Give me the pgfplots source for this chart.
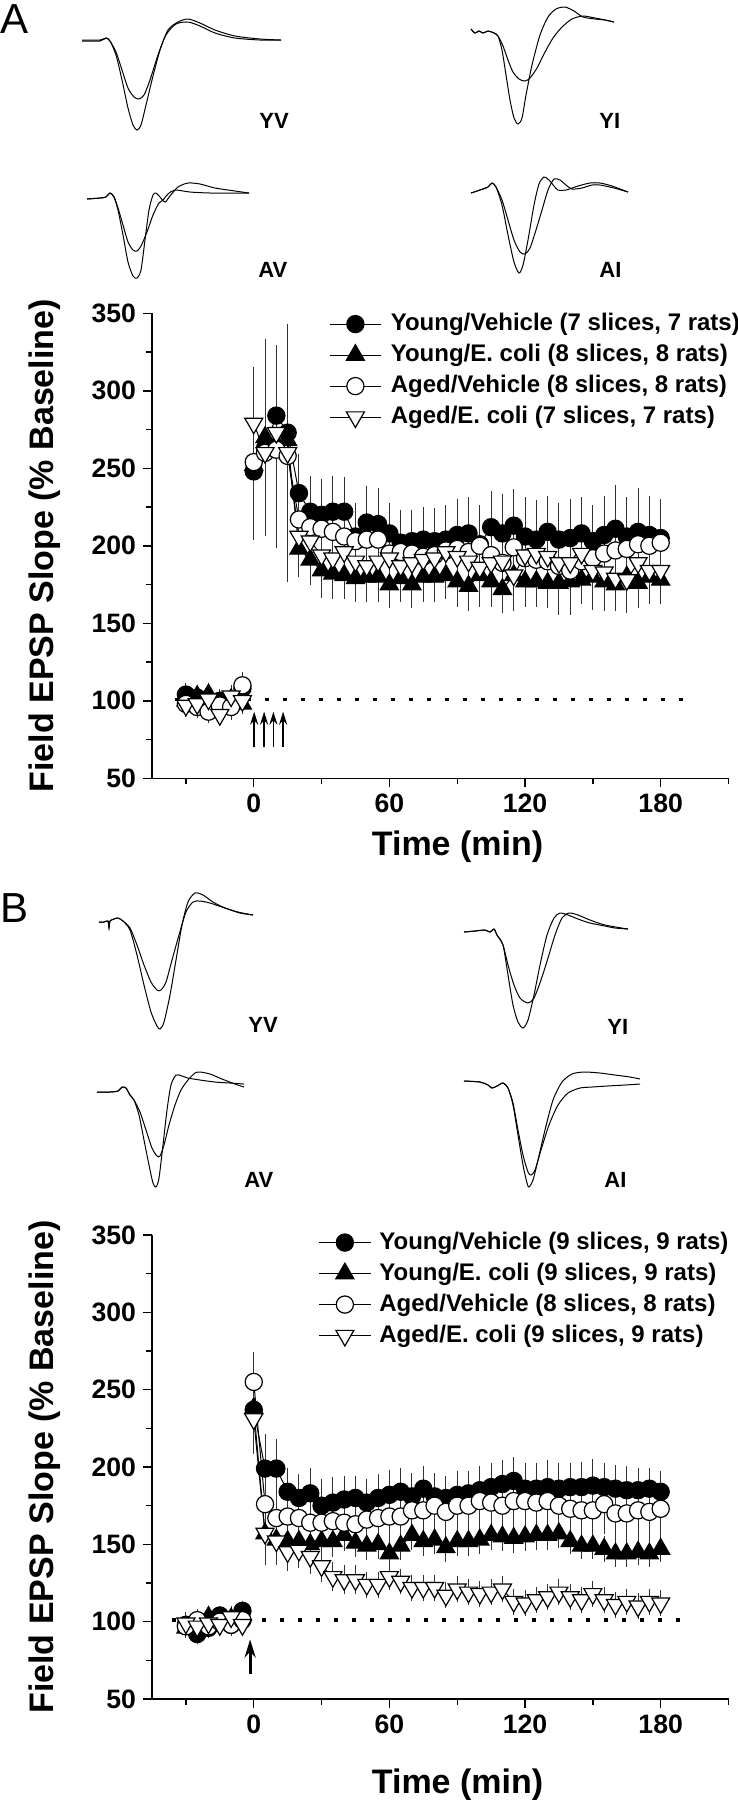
\documentclass[border=0pt]{standalone}
\usepackage{pgfplots}
\usepackage{pgfplotstable}
\pgfplotsset{compat=1.18}
\usetikzlibrary{arrows.meta}
\usepackage{fontspec}
\setmainfont{Liberation Sans}
\newcommand\tickfont{\bfseries\fontsize{13.3}{15}\selectfont}
\newcommand\labfont{\bfseries\fontsize{17}{20}\selectfont}
\newcommand\legfont{\bfseries\fontsize{12}{14}\selectfont}
\newcommand\trfont{\bfseries\fontsize{11}{13}\selectfont}
\newcommand\panfont{\fontsize{21}{25}\selectfont}

% ---------- Panel A data ----------
\pgfplotstableread{
t y e
-30 104 4
-25 102 4
-20 95 4
-15 100 4
-10 100 4
-5 108 5
-2.5 nan 0
0 248 36
5 263 38
10 284 42
15 273 40
20 234 22
25 222 20
30 220 20
35 222 20
40 222 19
45 206 18
50 215 20
55 214 20
60 208 16
65 202 18
70 203 17
75 204 18
80 203 18
85 204 19
90 207 20
95 208 20
100 201 22
105 212 20
110 208 22
115 213 20
120 206 22
125 204 22
130 209 20
135 204 20
140 205 22
145 208 20
150 203 20
155 207 22
160 211 25
165 206 22
170 209 25
175 207 22
180 205 22
}\AYV
\pgfplotstableread{
t y e
-30 100 4
-25 103 4
-20 104 4
-15 99 4
-10 101 4
-5 98 3
-2.5 nan 0
0 252 45
5 270 60
10 266 55
15 268 45
20 198 15
25 191 13
30 184 14
35 182 13
40 181 12
45 179 12
50 180 13
55 180 13
60 175 12
65 179 12
70 175 12
75 180 13
80 180 13
85 181 12
90 177 13
95 174 13
100 181 12
105 177 13
110 172 12
115 181 14
120 177 13
125 177 13
130 176 13
135 176 12
140 177 13
145 178 12
150 180 12
155 177 13
160 175 12
165 180 12
170 176 13
175 180 12
180 178 12
}\AYE
\pgfplotstableread{
t y e
-30 98 4
-25 96 4
-20 93 4
-15 97 4
-10 96 5
-5 110 5
-2.5 nan 0
0 254 42
5 260 45
10 262 60
15 258 55
20 217 18
25 212 18
30 211 18
35 209 20
40 206 20
45 203 20
50 204 18
55 204 20
60 195 18
65 196 20
70 195 18
75 193 17
80 194 18
85 197 18
90 198 18
95 196 18
100 200 20
105 194 18
110 189 18
115 199 20
120 192 18
125 191 18
130 190 18
135 187 18
140 184 18
145 190 18
150 192 18
155 195 18
160 197 20
165 198 20
170 201 20
175 200 20
180 202 18
}\AAV
\pgfplotstableread{
t y e
-30 97 4
-25 98 4
-20 101 4
-15 91 4
-10 103 4
-5 100 4
-2.5 nan 0
0 279 33
5 260 40
10 273 52
15 260 80
20 206 20
25 203 18
30 194 20
35 192 18
40 196 20
45 190 18
50 187 18
55 190 18
60 192 17
65 187 18
70 189 18
75 191 20
80 192 20
85 196 20
90 193 22
95 190 22
100 186 22
105 189 22
110 190 22
115 181 20
120 194 25
125 195 25
130 193 25
135 189 30
140 189 30
145 195 25
150 184 22
155 183 22
160 179 18
165 178 18
170 189 20
175 184 18
180 184 18
}\AAE

% ---------- Panel B data ----------
\pgfplotstableread{
t y e
-30 98 4
-25 92 3
-20 96 3
-15 104 3
-10 98 3
-5 107 3
-2.5 nan 0
0 237 17
5 199 19
10 199 16
15 184 12
20 180 12
25 183 13
30 175 14
35 177 13
40 179 12
45 180 11
50 177 12
55 180 12
60 182 13
65 184 12
70 181 12
75 186 11
80 181 12
85 180 11
90 182 12
95 183 11
100 185 12
105 187 12
110 189 12
115 191 12
120 186 13
125 186 13
130 187 14
135 186 13
140 187 12
145 187 13
150 188 14
155 187 12
160 186 12
165 185 12
170 185 11
175 186 10
180 184 10
}\BYV
\pgfplotstableread{
t y e
-30 96 3
-25 99 3
-20 103 3
-15 101 3
-10 102 3
-5 104 3
-2.5 nan 0
0 238 12
5 157 12
10 153 10
15 152 9
20 152 8
25 150 7
30 152 7
35 152 7
40 156 7
45 151 6
50 149 6
55 150 6
60 144 6
65 149 6
70 156 6
75 152 6
80 153 6
85 148 6
90 152 6
95 152 6
100 153 6
105 156 6
110 155 6
115 154 6
120 155 6
125 156 6
130 156 6
135 157 6
140 152 5
145 149 5
150 149 5
155 147 5
160 144 5
165 144 5
170 145 5
175 144 5
180 147 5
}\BYE
\pgfplotstableread{
t y e
-30 97 4
-25 101 4
-20 97 4
-15 100 4
-10 98 4
-5 101 4
-2.5 nan 0
0 255 16
5 176 15
10 167 12
15 168 12
20 167 12
25 164 12
30 164 12
35 165 12
40 164 12
45 163 12
50 166 12
55 167 12
60 168 13
65 168 13
70 172 14
75 172 14
80 175 14
85 171 14
90 175 14
95 175 14
100 178 15
105 177 15
110 175 15
115 178 15
120 178 15
125 177 15
130 178 16
135 175 16
140 173 16
145 172 16
150 172 16
155 176 16
160 170 17
165 170 17
170 172 17
175 171 17
180 173 17
}\BAV
\pgfplotstableread{
t y e
-30 99 4
-25 97 4
-20 99 4
-15 98 4
-10 103 4
-5 98 4
-2.5 nan 0
0 231 19
5 157 17
10 152 12
15 145 9
20 146 8
25 142 8
30 136 7
35 129 6
40 127 6
45 127 6
50 124 5
55 124 5
60 129 5
65 126 5
70 122 5
75 122 5
80 122 5
85 117 5
90 121 5
95 119 5
100 118 5
105 119 5
110 121 5
115 113 5
120 112 5
125 114 5
130 116 5
135 119 5
140 116 5
145 114 5
150 118 5
155 114 5
160 111 5
165 113 5
170 110 5
175 113 5
180 112 5
}\BAE

\pgfplotsset{
  epsp/.style={
    scale only axis, width=288.25pt,
    xmin=-45, xmax=210, ymin=50, ymax=350,
    axis x line*=bottom, axis y line*=left,
    axis line style={-, line width=0.7pt},
    xtick={0,60,120,180}, minor xtick={-30,30,90,150,210},
    ytick={50,100,...,350}, minor ytick={75,125,...,325},
    tick align=outside, major tick length=4.5pt, minor tick length=2.75pt,
    every tick/.style={black, line width=0.7pt},
    ticklabel style={font=\tickfont},
    /pgf/number format/assume math mode=true,
    label style={font=\labfont},
    ylabel={Field EPSP Slope (\% Baseline)},
    xlabel={Time (min)},
    ylabel style={at={(axis description cs:-0.1856,0.5)}, anchor=center},
    legend cell align=left,
    unbounded coords=jump,
    legend image code/.code={\draw[mark repeat=2,mark phase=2,#1] plot coordinates {(0pt,0pt) (12.75pt,0pt) (25.5pt,0pt)};},
    clip=false,
  },
  ser/.style={black, line width=0.5pt,
    error bars/y dir=both, error bars/y explicit,
    error bars/error mark=-,
    error bars/error bar style={line width=0.5pt, black!80},
    error bars/error mark options={black!80, line width=0.5pt, mark size=2.6pt}},
  yv/.style={ser, mark=*, mark size=4.3pt, mark options={solid, fill=black, line width=0.6pt}},
  ye/.style={ser, mark=triangle*, mark size=5.2pt, mark options={solid, fill=black, line width=0.6pt}},
  av/.style={ser, mark=*, mark size=4.3pt, mark options={solid, fill=white, line width=0.6pt}},
  ae/.style={ser, mark=triangle*, mark size=5.2pt, mark options={solid, fill=white, rotate=180, line width=0.6pt}},
  trace/.style={black, line width=0.5pt, smooth, tension=0.45, no marks},
  baseline/.style={black, line width=1.7pt, dash pattern=on 2pt off 7pt, forget plot},
}

\begin{document}
\begin{tikzpicture}
\useasboundingbox (0,0) rectangle (369pt,-900pt);

% ---------- canvas with traces and panel labels ----------
\begin{axis}[at={(0pt,-900pt)}, anchor=south west, scale only axis,
  width=369pt, height=900pt, xmin=0, xmax=738, ymin=0, ymax=1800,
  y dir=reverse, hide axis, clip=false]
% Panel A traces
\addplot[trace] coordinates {(82,40)(100,40)(106,38)(110,41)(116,55)(122,80)(128,108)(133,125)(137,130)(141,125)(146,105)(152,80)(160,50)(168,30)(178,22)(188,19)(200,23)(215,30)(235,36)(260,39)(281,40)};
\addplot[trace] coordinates {(82,41)(100,41)(106,38)(110,41)(116,52)(122,70)(128,88)(134,97)(139,99)(144,95)(150,80)(158,55)(166,35)(176,24)(188,22)(200,26)(215,33)(235,38)(260,40)(281,40)};
\addplot[trace] coordinates {(471,29)(475,33)(479,31)(483,33)(488,31)(494,33)(498,36)(502,50)(506,75)(510,100)(514,118)(518,124)(522,118)(526,95)(532,65)(540,35)(548,17)(556,9)(565,7)(574,11)(583,17)(595,19)(605,20)(614,22)};
\addplot[trace] coordinates {(471,29)(475,33)(479,31)(483,33)(488,31)(494,33)(498,36)(503,46)(508,60)(513,72)(519,79)(525,81)(530,78)(537,68)(545,52)(553,38)(562,27)(572,19)(583,16)(595,18)(605,20)(614,22)};
\addplot[trace] coordinates {(87,199)(100,198)(106,197)(110,193)(114,197)(118,210)(123,235)(128,262)(133,276)(137,278)(141,270)(145,240)(149,210)(153,195)(156,193)(160,197)(165,202)(170,196)(178,187)(188,183)(200,184)(215,188)(235,191)(249,193)};
\addplot[trace] coordinates {(87,199)(100,198)(106,197)(110,193)(114,197)(118,208)(123,225)(128,242)(133,250)(137,251)(141,246)(147,232)(153,215)(159,203)(163,200)(168,194)(175,190)(190,192)(210,193)(230,193)(249,193)};
\addplot[trace] coordinates {(471,193)(480,190)(488,187)(492,183)(496,187)(502,205)(508,235)(514,262)(519,273)(523,265)(528,240)(534,205)(539,184)(544,177)(549,180)(554,186)(558,190)(566,190)(578,186)(590,183)(600,183)(612,186)(628,192)};
\addplot[trace] coordinates {(471,193)(480,190)(488,187)(492,183)(496,187)(502,200)(508,220)(514,240)(520,252)(525,254)(530,248)(536,230)(542,210)(548,190)(554,179)(560,180)(566,185)(572,189)(582,188)(592,185)(600,185)(614,188)(628,192)};
% Panel B traces
\addplot[trace] coordinates {(99,922)(104,922)(108,921)(109,928)(110,921)(114,919)(118,918)(123,921)(130,930)(137,955)(144,985)(151,1012)(157,1026)(160,1029)(164,1022)(170,995)(176,960)(182,925)(188,902)(195,893)(203,895)(213,902)(225,908)(240,913)(253,915)};
\addplot[trace] coordinates {(99,922)(104,922)(108,921)(109,928)(110,921)(114,919)(118,918)(123,921)(130,928)(137,945)(144,965)(151,982)(157,990)(161,990)(166,982)(172,960)(179,935)(186,912)(193,902)(200,901)(210,903)(222,907)(238,912)(253,915)};
\addplot[trace] coordinates {(464,932)(475,931)(485,930)(490,932)(494,929)(497,935)(503,945)(508,975)(513,1005)(518,1022)(523,1028)(528,1020)(534,995)(540,965)(547,935)(554,918)(560,913)(568,915)(578,919)(590,923)(605,926)(615,928)(628,929)};
\addplot[trace] coordinates {(464,932)(475,931)(485,930)(490,932)(494,929)(497,935)(503,945)(508,965)(514,985)(520,998)(528,1003)(534,998)(541,980)(548,958)(555,935)(562,918)(569,913)(578,915)(590,920)(605,925)(628,929)};
\addplot[trace] coordinates {(97,1092)(110,1092)(118,1091)(122,1087)(126,1088)(130,1095)(134,1100)(139,1115)(144,1140)(149,1165)(153,1183)(156,1187)(159,1178)(163,1145)(167,1110)(171,1085)(176,1075)(182,1076)(188,1078)(200,1080)(215,1082)(230,1083)(244,1084)};
\addplot[trace] coordinates {(97,1092)(110,1092)(118,1091)(122,1087)(126,1088)(130,1095)(134,1100)(140,1112)(146,1130)(152,1148)(157,1156)(160,1156)(164,1145)(169,1125)(175,1105)(181,1090)(188,1080)(195,1073)(200,1072)(210,1074)(222,1079)(235,1084)(244,1087)};
\addplot[trace] coordinates {(464,1081)(480,1082)(488,1085)(492,1088)(497,1086)(503,1083)(508,1088)(513,1105)(518,1135)(523,1165)(527,1183)(529,1187)(533,1180)(538,1160)(545,1130)(553,1100)(562,1082)(572,1074)(584,1072)(600,1073)(615,1075)(630,1077)(640,1079)};
\addplot[trace] coordinates {(464,1081)(480,1082)(488,1085)(492,1088)(497,1086)(503,1083)(508,1088)(513,1103)(518,1130)(523,1155)(528,1172)(531,1175)(535,1170)(541,1150)(549,1125)(558,1105)(568,1093)(580,1088)(592,1087)(607,1086)(625,1085)(640,1084)};
% labels
\node[anchor=base west, inner sep=0pt, font=\panfont] at (axis cs:0,33) {A};
\node[anchor=base west, inner sep=0pt, font=\panfont] at (axis cs:0,922) {B};
\node[anchor=base west, inner sep=0pt, font=\trfont] at (axis cs:259,128) {YV};
\node[anchor=base west, inner sep=0pt, font=\trfont] at (axis cs:599,128) {YI};
\node[anchor=base west, inner sep=0pt, font=\trfont] at (axis cs:258,277) {AV};
\node[anchor=base west, inner sep=0pt, font=\trfont] at (axis cs:599,277) {AI};
\node[anchor=base west, inner sep=0pt, font=\trfont] at (axis cs:248,1032) {YV};
\node[anchor=base west, inner sep=0pt, font=\trfont] at (axis cs:607,1034) {YI};
\node[anchor=base west, inner sep=0pt, font=\trfont] at (axis cs:244,1187) {AV};
\node[anchor=base west, inner sep=0pt, font=\trfont] at (axis cs:604,1187) {AI};
\end{axis}

% ---------- Panel A plot ----------
\begin{axis}[epsp, at={(76pt,-389.15pt)}, anchor=south west, height=232.5pt,
  xlabel style={at={(axis description cs:0.53,-0.148)}, anchor=center},
  legend style={at={(axis description cs:0.2966,1.011)}, anchor=north west,
    draw=none, fill=none, font=\legfont, row sep=4pt,
    nodes={inner sep=0pt, text height=9pt, text depth=2.5pt},
    /tikz/every odd column/.append style={column sep=4.7pt}}]
\addplot[baseline] coordinates {(-35,101) (190,101)};
\addplot[yv] table[x=t, y=y, y error=e] {\AYV};
\addlegendentry{Young/Vehicle (7 slices, 7 rats)}
\addplot[ye] table[x=t, y=y, y error=e] {\AYE};
\addlegendentry{Young/E. coli (8 slices, 8 rats)}
\addplot[av] table[x=t, y=y, y error=e] {\AAV};
\addlegendentry{Aged/Vehicle (8 slices, 8 rats)}
\addplot[ae] table[x=t, y=y, y error=e] {\AAE};
\addlegendentry{Aged/E. coli (7 slices, 7 rats)}
\draw[-{Stealth[length=6.5pt,width=4pt]}, line width=0.9pt] (axis cs:0.2,70.4) -- (axis cs:0.2,93);
\draw[-{Stealth[length=6.5pt,width=4pt]}, line width=0.9pt] (axis cs:4.6,70.4) -- (axis cs:4.6,93);
\draw[-{Stealth[length=6.5pt,width=4pt]}, line width=0.9pt] (axis cs:8.7,70.4) -- (axis cs:8.7,93);
\draw[-{Stealth[length=6.5pt,width=4pt]}, line width=0.9pt] (axis cs:13,70.4) -- (axis cs:13,93);
\end{axis}

% ---------- Panel B plot ----------
\begin{axis}[epsp, at={(76pt,-849.5pt)}, anchor=south west, height=232pt,
  xlabel style={at={(axis description cs:0.53,-0.185)}, anchor=center},
  legend image code/.code={\draw[mark repeat=2,mark phase=2,#1] plot coordinates {(0pt,0pt) (13pt,0pt) (26pt,0pt)};},
  legend style={at={(axis description cs:0.2775,1.018)}, anchor=north west,
    draw=none, fill=none, font=\legfont, row sep=4pt,
    nodes={inner sep=0pt, text height=9pt, text depth=2.5pt},
    /tikz/every odd column/.append style={column sep=4pt}}]
\addplot[baseline] coordinates {(-36,101) (190,101)};
\addplot[yv] table[x=t, y=y, y error=e] {\BYV};
\addlegendentry{Young/Vehicle (9 slices, 9 rats)}
\addplot[ye] table[x=t, y=y, y error=e] {\BYE};
\addlegendentry{Young/E. coli (9 slices, 9 rats)}
\addplot[av] table[x=t, y=y, y error=e] {\BAV};
\addlegendentry{Aged/Vehicle (8 slices, 8 rats)}
\addplot[ae] table[x=t, y=y, y error=e] {\BAE};
\addlegendentry{Aged/E. coli (9 slices, 9 rats)}
\draw[-{Stealth[length=9pt,width=5.5pt]}, line width=1.5pt] (axis cs:-1.6,66) -- (axis cs:-1.6,88.5);
\end{axis}
\end{tikzpicture}
\end{document}
